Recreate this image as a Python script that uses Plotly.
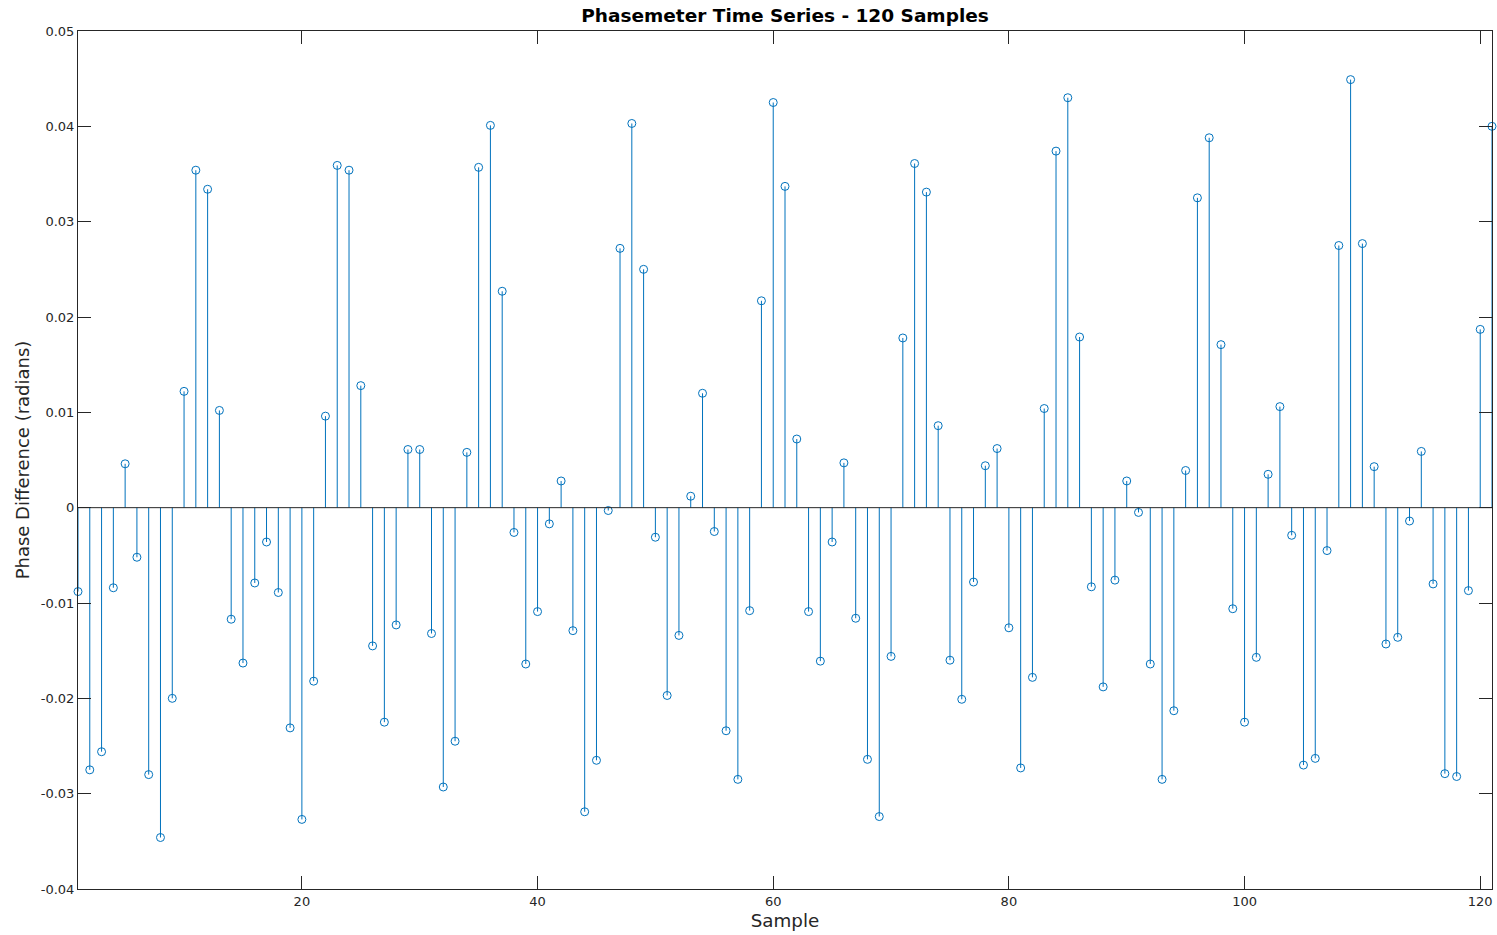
import plotly.graph_objects as go

samples = list(range(1, 122))
phase_diff = [
    -0.0088, -0.0275, -0.0256, -0.0084, 0.0046, -0.0052, -0.0280, -0.0346, -0.0200, 0.0122,
    0.0354, 0.0334, 0.0102, -0.0117, -0.0163, -0.0079, -0.0036, -0.0089, -0.0231, -0.0327,
    -0.0182, 0.0096, 0.0359, 0.0354, 0.0128, -0.0145, -0.0225, -0.0123, 0.0061, 0.0061,
    -0.0132, -0.0293, -0.0245, 0.0058, 0.0357, 0.0401, 0.0227, -0.0026, -0.0164, -0.0109,
    -0.0017, 0.0028, -0.0129, -0.0319, -0.0265, -0.0003, 0.0272, 0.0403, 0.0250, -0.0031,
    -0.0197, -0.0134, 0.0012, 0.0120, -0.0025, -0.0234, -0.0285, -0.0108, 0.0217, 0.0425,
    0.0337, 0.0072, -0.0109, -0.0161, -0.0036, 0.0047, -0.0116, -0.0264, -0.0324, -0.0156,
    0.0178, 0.0361, 0.0331, 0.0086, -0.0160, -0.0201, -0.0078, 0.0044, 0.0062, -0.0126,
    -0.0273, -0.0178, 0.0104, 0.0374, 0.0430, 0.0179, -0.0083, -0.0188, -0.0076, 0.0028,
    -0.0005, -0.0164, -0.0285, -0.0213, 0.0039, 0.0325, 0.0388, 0.0171, -0.0106, -0.0225,
    -0.0157, 0.0035, 0.0106, -0.0029, -0.0270, -0.0263, -0.0045, 0.0275, 0.0449, 0.0277,
    0.0043, -0.0143, -0.0136, -0.0014, 0.0059, -0.0080, -0.0279, -0.0282, -0.0087, 0.0187,
    0.0400,
]

x_ticks = [20, 40, 60, 80, 100, 120]
y_ticks = [-0.04, -0.03, -0.02, -0.01, 0, 0.01, 0.02, 0.03, 0.04, 0.05]
y_tick_text = ["-0.04", "-0.03", "-0.02", "-0.01", "0", "0.01", "0.02", "0.03", "0.04", "0.05"]

color = "#0072BD"

stem_x, stem_y = [], []
for xv, yv in zip(samples, phase_diff):
    stem_x += [xv, xv, None]
    stem_y += [0, yv, None]

fig = go.Figure()
fig.add_trace(go.Scatter(x=stem_x, y=stem_y, mode="lines",
                         line=dict(color=color, width=1), hoverinfo="skip",
                         showlegend=False, cliponaxis=False))
fig.add_trace(go.Scatter(x=samples, y=phase_diff, mode="markers",
                         marker=dict(symbol="circle-open", size=8, color=color,
                                     line=dict(width=1, color=color)),
                         showlegend=False, cliponaxis=False))

fig.add_shape(type="line", xref="paper", yref="y", x0=0, x1=1, y0=0, y1=0,
              line=dict(color="#262626", width=1), layer="above")

font_family = "DejaVu Sans, Liberation Sans, sans-serif"
axis_col = "#262626"

fig.update_layout(
    width=1497, height=935,
    paper_bgcolor="white", plot_bgcolor="white",
    margin=dict(l=78, r=5, t=31, b=46),
    title=dict(text="<b>Phasemeter Time Series - 120 Samples</b>", x=0.5244, xanchor="center",
               y=0.983, yanchor="middle",
               font=dict(family=font_family, size=18.5, color="black")),
    font=dict(family=font_family, color=axis_col),
    xaxis=dict(range=[1, 121], tickvals=x_ticks, ticks="inside", ticklen=13,
               tickcolor=axis_col, showline=True, linecolor=axis_col, linewidth=1,
               mirror="ticks", showgrid=False, zeroline=False, automargin=False,
               tickfont=dict(size=13, color=axis_col),
               title=dict(text="Sample", font=dict(size=18.3, color=axis_col), standoff=6)),
    yaxis=dict(range=[-0.04, 0.05], tickvals=y_ticks, ticktext=y_tick_text,
               ticks="inside", ticklen=13,
               tickcolor=axis_col, showline=True, linecolor=axis_col, linewidth=1,
               mirror="ticks", showgrid=False, zeroline=False, automargin=False,
               tickfont=dict(size=13, color=axis_col),
               title=dict(text="Phase Difference (radians)", font=dict(size=18, color=axis_col),
                          standoff=6)),
)

fig.write_html(
    "out.html",
    config={"displayModeBar": False},
    post_script="document.body.style.margin='0';document.body.style.overflow='hidden';",
)
